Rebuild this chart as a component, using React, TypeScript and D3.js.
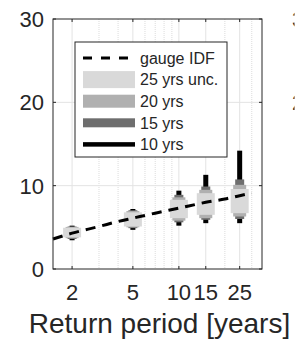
import React from "react";
import * as d3 from "d3";

const returnPeriods = [2, 5, 10, 15, 25];
const unc25Low = [3.8, 5.1, 6.1, 6.5, 6.7];
const unc25High = [4.95, 6.8, 8.3, 9.1, 9.6];
const yrs20Low = [3.7, 5.0, 5.8, 6.1, 6.3];
const yrs20High = [5.05, 6.95, 8.6, 9.5, 10.1];
const yrs15Low = [3.6, 4.9, 5.6, 5.9, 6.0];
const yrs15High = [5.1, 7.05, 8.9, 9.9, 10.75];
const yrs10Low = [3.45, 4.7, 5.2, 5.5, 5.5];
const yrs10High = [5.2, 7.2, 9.4, 11.3, 14.2];

const gaugeT = [1.5, 2, 3, 4, 5, 7, 10, 15, 20, 25, 30];
const gaugeValue = [3.6, 4.3, 5.1, 5.7, 6.1, 6.7, 7.3, 8.0, 8.4, 8.8, 9.1];

const xTicks = [2, 5, 10, 15, 25];
const xMinorGrid = [3, 4, 6, 7, 8, 9, 20, 30];
const yTicks = [0, 10, 20, 30];
const neighbourTicks = [20, 30];

const legendLabels = ["gauge IDF", "25 yrs unc.", "20 yrs", "15 yrs", "10 yrs"];

const W = 298, H = 343;
const left = 53, right = 262, top = 19, bottom = 269;
const FONT = "'Liberation Sans', Arial, Helvetica, sans-serif";
const TXT = "#262626";

export default function App() {
  const x = d3.scaleLog().domain([1.5, 35]).range([left, right]);
  const y = d3.scaleLinear().domain([0, 30]).range([bottom, top]);

  const layers = [
    { lo: yrs10Low, hi: yrs10High, w: 5, color: "#000000" },
    { lo: yrs15Low, hi: yrs15High, w: 9, color: "#6e6e6e" },
    { lo: yrs20Low, hi: yrs20High, w: 13, color: "#b0b0b0" },
    { lo: unc25Low, hi: unc25High, w: 18, color: "#d9d9d9" },
  ];

  const line = d3
    .line<number>()
    .x((_, i) => x(gaugeT[i]))
    .y((v) => y(v))
    .curve(d3.curveMonotoneX);

  const legendItems = [
    { kind: "dash", w: 3, color: "#000" },
    { kind: "bar", w: 17, color: "#d9d9d9" },
    { kind: "bar", w: 13, color: "#b0b0b0" },
    { kind: "bar", w: 9, color: "#6e6e6e" },
    { kind: "bar", w: 4.5, color: "#000" },
  ];
  const legX = 75, legY = 42, legW = 152, legH = 115;

  return (
    <svg width={W} height={H} style={{ position: "absolute", left: 0, top: 0, background: "#fff" }}>
      <defs>
        <clipPath id="neighbourClip">
          <rect x={280} y={0} width={14.5} height={H} />
        </clipPath>
      </defs>
      <rect x={0} y={0} width={W} height={H} fill="#fff" />
      {/* grid */}
      {xMinorGrid.map((t) => (
        <line key={"mg" + t} x1={x(t)} x2={x(t)} y1={top} y2={bottom} stroke="#dcdcdc" strokeWidth={1} strokeDasharray="1,1" />
      ))}
      {xTicks.map((t) => (
        <line key={"g" + t} x1={x(t)} x2={x(t)} y1={top} y2={bottom} stroke="#e3e3e3" strokeWidth={1} />
      ))}
      {yTicks.filter((v) => v > 0 && v < 30).map((v) => (
        <line key={"gy" + v} x1={left} x2={right} y1={y(v)} y2={y(v)} stroke="#e3e3e3" strokeWidth={1} />
      ))}
      {/* bars */}
      {layers.map((L, li) =>
        returnPeriods.map((t, i) => (
          <rect
            key={"b" + li + "-" + i}
            x={x(t) - L.w / 2}
            width={L.w}
            y={y(L.hi[i])}
            height={y(L.lo[i]) - y(L.hi[i])}
            fill={L.color}
          />
        ))
      )}
      {/* gauge IDF */}
      <path d={line(gaugeValue) || ""} fill="none" stroke="#000" strokeWidth={3} strokeDasharray="10,7" />
      {/* axes box */}
      <rect x={left} y={top} width={right - left} height={bottom - top} fill="none" stroke="#262626" strokeWidth={1} />
      {xTicks.map((t) => (
        <g key={"xt" + t}>
          <line x1={x(t)} x2={x(t)} y1={bottom} y2={bottom - 3} stroke="#262626" />
          <line x1={x(t)} x2={x(t)} y1={top} y2={top + 3} stroke="#262626" />
          <text x={x(t)} y={300} textAnchor="middle" fontFamily={FONT} fontSize={22} fill={TXT}>
            {t}
          </text>
        </g>
      ))}
      {yTicks.map((v) => (
        <g key={"yt" + v}>
          <line x1={left} x2={left + 3} y1={y(v)} y2={y(v)} stroke="#262626" />
          <line x1={right} x2={right - 3} y1={y(v)} y2={y(v)} stroke="#262626" />
          <text x={44} y={y(v)} dy="0.36em" textAnchor="end" fontFamily={FONT} fontSize={22} fill={TXT}>
            {v}
          </text>
        </g>
      ))}
      <text x={(left + right) / 2 + 2} y={333} textAnchor="middle" fontFamily={FONT} fontSize={28} fill={TXT}>
        Return period [years]
      </text>
      {/* neighbour subplot tick labels: only a sliver is visible in the reference */}
      <g clipPath="url(#neighbourClip)">
        {neighbourTicks.map((v) => (
          <text key={"nb" + v} x={292} y={y(v)} dy="0.36em" fontFamily={FONT} fontSize={22} fill={TXT}>
            {v}
          </text>
        ))}
      </g>
      {/* legend */}
      <rect x={legX} y={legY} width={legW} height={legH} fill="#fff" stroke="#262626" strokeWidth={1} />
      {legendItems.map((it, i) => {
        const cy = 58 + i * 21.6;
        return (
          <g key={"leg" + i}>
            {it.kind === "dash" ? (
              <line x1={83} x2={135} y1={cy} y2={cy} stroke={it.color} strokeWidth={it.w} strokeDasharray="9,9" />
            ) : (
              <rect x={83} y={cy - it.w / 2} width={52} height={it.w} fill={it.color} />
            )}
            <text x={140} y={cy} dy="0.36em" fontFamily={FONT} fontSize={16} fill={TXT}>
              {legendLabels[i]}
            </text>
          </g>
        );
      })}
    </svg>
  );
}
